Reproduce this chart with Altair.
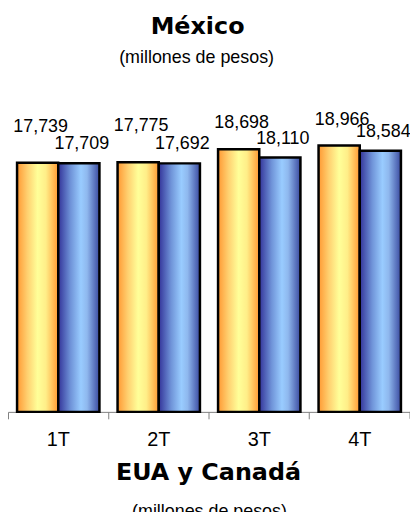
import altair as alt
import pandas as pd

quarters = ["1T", "2T", "3T", "4T"]
series_names = ["Serie A", "Serie B"]
orange_values = [17739, 17775, 18698, 18966]
blue_values = [17709, 17692, 18110, 18584]

title_top = "México"
subtitle_top = "(millones de pesos)"
title_bottom = "EUA y Canadá"
subtitle_bottom = "(millones de pesos)"

rows = []
for q, a, b in zip(quarters, orange_values, blue_values):
    rows.append({"trimestre": q, "serie": series_names[0], "valor": a, "gap": a - b})
    rows.append({"trimestre": q, "serie": series_names[1], "valor": b, "gap": a - b})
df = pd.DataFrame(rows)

W, H = 405, 283
FONT = "Liberation Sans"

orange_grad = alt.LinearGradient(
    gradient="linear", x1=0, x2=1, y1=0, y2=0,
    stops=[
        alt.GradientStop(color="#ff9933", offset=0),
        alt.GradientStop(color="#ffd070", offset=0.25),
        alt.GradientStop(color="#ffff99", offset=0.5),
        alt.GradientStop(color="#ffee88", offset=0.7),
        alt.GradientStop(color="#ff9933", offset=1),
    ],
)
blue_grad = alt.LinearGradient(
    gradient="linear", x1=0, x2=1, y1=0, y2=0,
    stops=[
        alt.GradientStop(color="#333399", offset=0),
        alt.GradientStop(color="#6f93d8", offset=0.3),
        alt.GradientStop(color="#99ccff", offset=0.55),
        alt.GradientStop(color="#8fb8ee", offset=0.7),
        alt.GradientStop(color="#3a4aa0", offset=1),
    ],
)

x_enc = alt.X(
    "trimestre:N", sort=quarters,
    scale=alt.Scale(paddingInner=0, paddingOuter=0),
    axis=alt.Axis(
        title=None, labelAngle=0, bandPosition=0,
        domainColor="#808080", tickColor="#808080", tickSize=7,
        labelFont=FONT, labelFontSize=20, labelColor="black", labelPadding=11,
        grid=False,
    ),
)
xo_enc = alt.XOffset("serie:N", sort=series_names,
                     scale=alt.Scale(paddingInner=0, paddingOuter=0.22))
y_enc = alt.Y("valor:Q", scale=alt.Scale(domain=[0, 20000]), axis=None)

base = alt.Chart(df).encode(x=x_enc, xOffset=xo_enc, y=y_enc)

bars_a = base.transform_filter(alt.datum.serie == series_names[0]).mark_bar(
    fill=orange_grad, stroke="black", strokeWidth=2.5)
bars_b = base.transform_filter(alt.datum.serie == series_names[1]).mark_bar(
    fill=blue_grad, stroke="black", strokeWidth=2.5)

labels_a = base.transform_filter(alt.datum.serie == series_names[0]).mark_text(
    font=FONT, fontSize=18, color="black", baseline="alphabetic", dx=3,
    dy=alt.expr("datum.gap < 200 ? -31 : -21"),
).encode(text=alt.Text("valor:Q", format=","))
labels_b = base.transform_filter(alt.datum.serie == series_names[1]).mark_text(
    font=FONT, fontSize=18, color="black", baseline="alphabetic", dx=3, dy=-14,
).encode(text=alt.Text("valor:Q", format=","))

end_tick = alt.Chart(pd.DataFrame({"k": [0]})).mark_rule(color="#808080").encode(
    x=alt.value(W), y=alt.value(H), y2=alt.value(H + 7))


def txt(s, xpx, ypx, size, bold, font):
    return alt.Chart(pd.DataFrame({"t": [s]})).mark_text(
        font=font, fontSize=size, fontWeight="bold" if bold else "normal",
        color="black", baseline="alphabetic", align="center",
    ).encode(text="t:N", x=alt.value(xpx), y=alt.value(ypx))


t1 = txt(title_top, 191, -98, 24, True, "DejaVu Sans")
t2 = txt(subtitle_top, 190, -68, 18, False, FONT)
t3 = txt(title_bottom, 202, 352, 24, True, "DejaVu Sans")
t4 = txt(subtitle_bottom, 203, 389, 18, False, FONT)

chart = alt.layer(bars_a, bars_b, labels_a, labels_b, end_tick, t1, t2, t3, t4).properties(
    width=W, height=H,
    autosize=alt.AutoSizeParams(type="none"),
    padding={"left": 0, "top": 122, "right": 0, "bottom": 99},
).configure_view(stroke=None)

chart.save("out.html", embed_options={"renderer": "svg", "actions": False})
